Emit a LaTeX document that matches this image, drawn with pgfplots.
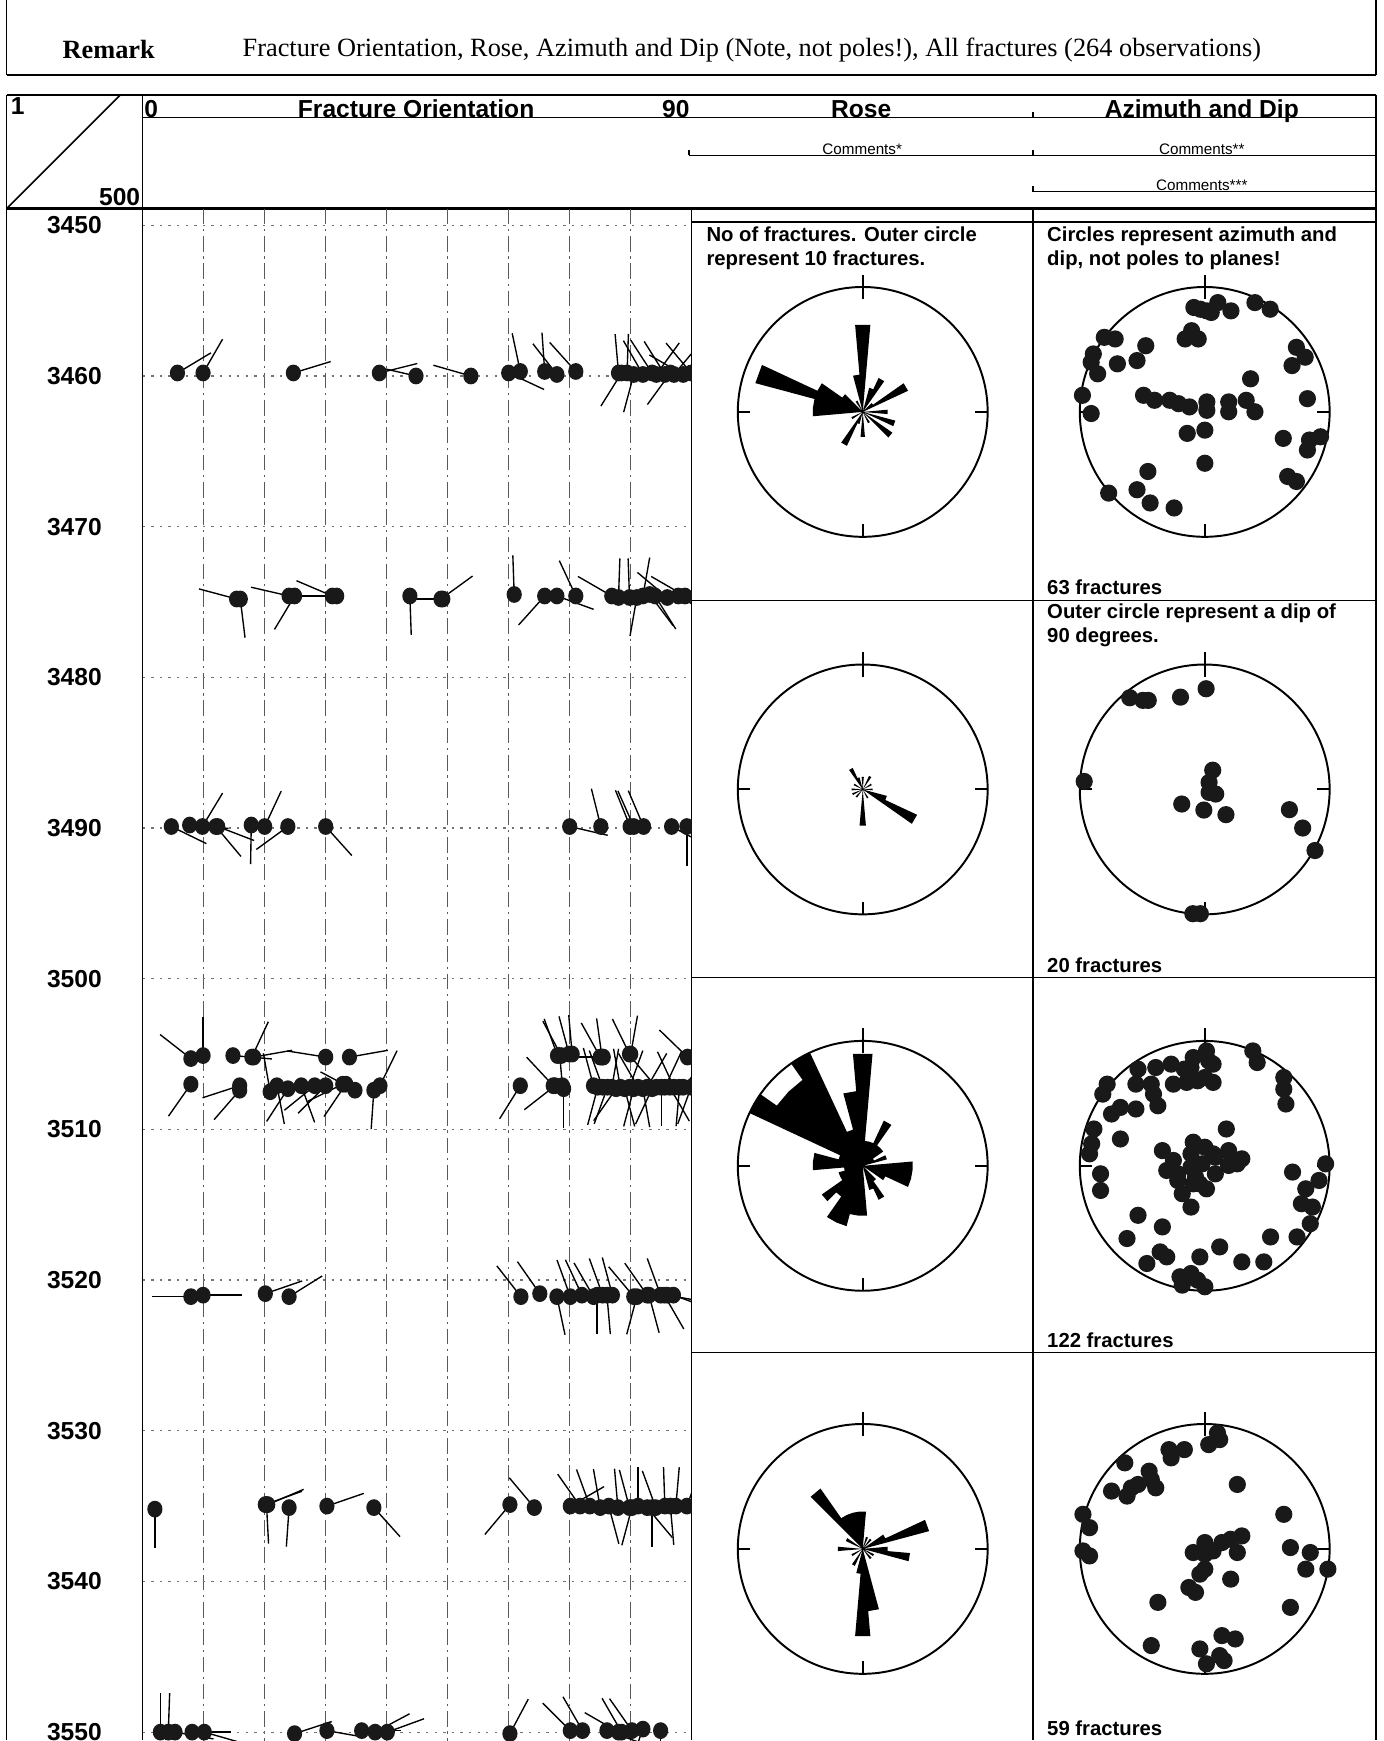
\documentclass[border=0pt]{standalone}
\usepackage{pgfplots}
\usepackage{pgfplotstable}
\pgfplotsset{compat=1.18}
\usepgfplotslibrary{polar}
\usepackage{fontspec}
\setmainfont{Liberation Serif}
\setsansfont{Liberation Sans}

\newcommand\hdfont{\sffamily\bfseries\fontsize{6.3}{7}\selectfont}
\newcommand\notefont{\sffamily\bfseries\fontsize{5.2}{6}\selectfont}
\newcommand\comfont{\sffamily\fontsize{3.9}{4.5}\selectfont}
\newcommand\ttlfont{\rmfamily\fontsize{6.75}{8}\selectfont}

\pgfdeclareplotmark{tail}{%
  \pgfsetlinewidth{0.35pt}%
  \pgfpathmoveto{\pgfpointorigin}%
  \pgfpathlineto{\pgfqpoint{0pt}{10pt}}%
  \pgfusepathqstroke
}
\pgfdeclareplotmark{dot}{%
  \pgfpathellipse{\pgfpointorigin}{\pgfqpoint{1.95pt}{0pt}}{\pgfqpoint{0pt}{2.15pt}}%
  \pgfusepathqfill
}

% tadpoles: dip (deg), depth (m), azimuth (deg)
\pgfplotstableread{
dip dep az
5.7 3459.8 59
9.9 3459.8 30
24.7 3459.8 73
38.8 3459.8 76
44.8 3460.0 283
53.8 3460.0 286
60.0 3459.8 115
61.9 3459.7 348
65.9 3459.7 356
67.9 3459.9 322
71.0 3459.7 318
78.0 3459.8 355
78.5 3459.8 212
79.4 3459.8 2
80.5 3459.9 195
82.0 3459.9 330
83.5 3459.8 327
84.2 3459.9 36
85.6 3459.9 328
86.5 3459.8 216
87.1 3459.9 40
88.6 3459.9 300
89.9 3459.8 320
15.4 3474.8 285
16.0 3474.8 173
24.0 3474.6 283
24.9 3474.6 211
31.1 3474.6 293
31.8 3474.6 270
43.8 3474.6 178
48.9 3474.8 54
49.2 3474.8 270
60.9 3474.5 358
65.9 3474.6 222
67.9 3474.6 110
71.0 3474.6 335
76.9 3474.6 300
78.0 3474.7 2
79.8 3474.7 358
81.0 3474.7 190
82.0 3474.6 10
83.1 3474.5 143
84.0 3474.6 148
86.0 3474.7 310
87.8 3474.6 120
88.9 3474.6 300
4.7 3489.9 116
7.7 3489.8 95
9.8 3489.9 31
12.0 3489.9 140
12.3 3489.9 111
17.8 3489.8 181
20.0 3489.9 25
23.8 3489.9 234
30.0 3489.9 138
70.0 3489.9 103
75.1 3489.9 346
79.9 3489.9 338
80.5 3489.9 336
82.1 3489.9 337
86.7 3489.9 118
89.2 3489.9 180
7.9 3505.3 308
9.9 3505.1 0
14.8 3505.1 95
17.9 3505.2 25
18.2 3505.2 80
30.0 3505.2 279
33.9 3505.2 80
68.0 3505.1 340
68.6 3505.1 332
69.9 3505.0 345
70.4 3505.0 355
75.0 3505.2 331
75.3 3505.2 352
75.5 3505.2 270
79.8 3505.0 334
80.0 3505.0 10
89.3 3505.2 314
7.9 3507.0 215
15.9 3507.1 252
15.9 3507.4 221
20.9 3507.5 350
22.0 3507.1 169
23.8 3507.3 213
26.0 3507.1 160
28.2 3507.1 231
30.0 3507.1 225
32.8 3507.0 244
33.3 3507.0 214
34.8 3507.4 298
37.9 3507.4 184
38.9 3507.1 26
61.9 3507.1 212
67.3 3507.1 317
67.6 3507.1 232
68.8 3507.1 355
69.0 3507.3 180
73.9 3507.1 345
74.6 3507.2 195
75.4 3507.2 340
76.2 3507.2 200
76.9 3507.2 10
77.6 3507.3 215
78.3 3507.2 350
79.0 3507.3 165
79.8 3507.2 20
80.5 3507.3 195
81.2 3507.2 330
82.0 3507.3 170
82.7 3507.2 30
83.5 3507.3 205
84.2 3507.2 320
85.0 3507.2 180
85.6 3507.2 25
86.4 3507.2 150
87.1 3507.2 335
88.0 3507.2 185
88.6 3507.2 40
89.9 3507.2 200
7.9 3521.1 270
9.9 3521.0 90
20.1 3520.9 71
24.0 3521.1 58
62.0 3521.1 322
65.1 3520.9 325
67.9 3521.1 168
70.1 3521.1 340
72.0 3521.0 335
73.9 3521.1 330
74.5 3521.0 180
75.4 3521.0 340
76.1 3521.0 175
77.0 3521.0 345
80.5 3521.1 320
81.0 3521.1 195
82.7 3521.0 325
83.0 3521.0 165
84.9 3521.0 340
85.5 3521.0 150
86.0 3521.0 100
87.0 3521.0 110
2.0 3535.2 180
20.1 3534.9 70
20.3 3534.9 177
20.5 3534.9 67
24.0 3535.1 184
30.2 3535.0 71
37.9 3535.1 138
60.2 3534.9 220
64.2 3535.1 320
70.1 3535.0 60
71.7 3535.0 325
73.3 3535.0 340
75.0 3535.1 350
76.4 3535.0 165
77.9 3535.1 355
79.8 3535.1 345
80.2 3535.1 195
81.2 3535.0 0
82.7 3535.1 140
83.5 3535.1 180
84.1 3535.1 340
85.6 3535.0 358
86.5 3535.0 175
87.4 3535.0 5
89.2 3535.0 20
2.9 3550.0 0
4.2 3550.0 2
5.3 3550.0 100
8.1 3550.0 90
10.1 3550.0 106
24.9 3550.1 72
30.2 3549.9 100
35.9 3549.9 90
38.1 3550.0 62
40.1 3550.0 70
60.2 3550.1 28
70.1 3549.9 315
72.1 3549.9 330
76.1 3549.9 110
78.0 3550.0 300
78.5 3550.0 330
80.2 3549.9 325
82.0 3549.8 200
84.9 3549.9 180
}\tadpoles

% rose petals: azimuth a (deg), number of fractures r
\pgfplotstableread[row sep=\\]{a r\\
0 0\\ -5 7\\ 5 7\\ nan nan\\
0 0\\ 15 2\\ 25 2\\ nan nan\\
0 0\\ 25 3\\ 35 3\\ nan nan\\
0 0\\ 45 1\\ 55 1\\ nan nan\\
0 0\\ 55 4\\ 65 4\\ nan nan\\
0 0\\ 85 2\\ 95 2\\ nan nan\\
0 0\\ 105 2.7\\ 115 2.7\\ nan nan\\
0 0\\ 125 2.9\\ 135 2.9\\ nan nan\\
0 0\\ 145 1\\ 155 1\\ nan nan\\
0 0\\ 175 2\\ 185 2\\ nan nan\\
0 0\\ 195 1\\ 205 1\\ nan nan\\
0 0\\ 205 3\\ 215 3\\ nan nan\\
0 0\\ 235 1\\ 245 1\\ nan nan\\
0 0\\ 265 4\\ 275 4\\ nan nan\\
0 0\\ 275 4\\ 285 4\\ nan nan\\
0 0\\ 285 8.9\\ 295 8.9\\ nan nan\\
0 0\\ 295 4\\ 305 4\\ nan nan\\
0 0\\ 305 2\\ 315 2\\ nan nan\\
0 0\\ 325 1\\ 335 1\\ nan nan\\
0 0\\ 345 3\\ 355 3\\ nan nan\\
}\roseA

\pgfplotstableread[row sep=\\]{a r\\
0 0\\ 115 4.8\\ 125 4.8\\ nan nan\\
0 0\\ 105 2\\ 115 2\\ nan nan\\
0 0\\ 175 2.9\\ 185 2.9\\ nan nan\\
0 0\\ 325 1.9\\ 335 1.9\\ nan nan\\
0 0\\ -5 1\\ 5 1\\ nan nan\\
0 0\\ 25 1.2\\ 35 1.2\\ nan nan\\
0 0\\ 55 0.8\\ 65 0.8\\ nan nan\\
0 0\\ 85 0.8\\ 95 0.8\\ nan nan\\
0 0\\ 145 0.8\\ 155 0.8\\ nan nan\\
0 0\\ 215 0.8\\ 225 0.8\\ nan nan\\
0 0\\ 240 0.9\\ 250 0.9\\ nan nan\\
0 0\\ 265 0.9\\ 275 0.9\\ nan nan\\
0 0\\ 295 0.8\\ 305 0.8\\ nan nan\\
0 0\\ 335 1\\ 345 1\\ nan nan\\
}\roseB

\pgfplotstableread[row sep=\\]{a r\\
0 0\\ 255 1.5\\ 265 1.5\\ nan nan\\
0 0\\ 265 4\\ 275 4\\ nan nan\\
0 0\\ 275 4\\ 285 4\\ nan nan\\
0 0\\ 285 2\\ 295 2\\ nan nan\\
0 0\\ 295 10\\ 305 10\\ nan nan\\
0 0\\ 305 8.4\\ 315 8.4\\ nan nan\\
0 0\\ 315 8.4\\ 325 8.4\\ nan nan\\
0 0\\ 325 10\\ 335 10\\ nan nan\\
0 0\\ 335 3\\ 345 3\\ nan nan\\
0 0\\ 345 6\\ 355 6\\ nan nan\\
0 0\\ -5 9\\ 5 9\\ nan nan\\
0 0\\ 5 2\\ 15 2\\ nan nan\\
0 0\\ 15 2\\ 25 2\\ nan nan\\
0 0\\ 25 4\\ 35 4\\ nan nan\\
0 0\\ 35 2\\ 45 2\\ nan nan\\
0 0\\ 45 2\\ 55 2\\ nan nan\\
0 0\\ 55 1\\ 65 1\\ nan nan\\
0 0\\ 65 2\\ 75 2\\ nan nan\\
0 0\\ 85 4\\ 95 4\\ nan nan\\
0 0\\ 95 4\\ 105 4\\ nan nan\\
0 0\\ 105 4\\ 115 4\\ nan nan\\
0 0\\ 115 2\\ 125 2\\ nan nan\\
0 0\\ 135 1.5\\ 145 1.5\\ nan nan\\
0 0\\ 145 3\\ 155 3\\ nan nan\\
0 0\\ 155 2\\ 165 2\\ nan nan\\
0 0\\ 175 4\\ 185 4\\ nan nan\\
0 0\\ 185 4\\ 195 4\\ nan nan\\
0 0\\ 195 5\\ 205 5\\ nan nan\\
0 0\\ 205 5\\ 215 5\\ nan nan\\
0 0\\ 215 3\\ 225 3\\ nan nan\\
0 0\\ 225 4\\ 235 4\\ nan nan\\
0 0\\ 235 2\\ 245 2\\ nan nan\\
0 0\\ 245 2\\ 255 2\\ nan nan\\
}\roseC

\pgfplotstableread[row sep=\\]{a r\\
0 0\\ 315 5.9\\ 325 5.9\\ nan nan\\
0 0\\ 325 3\\ 335 3\\ nan nan\\
0 0\\ 335 3\\ 345 3\\ nan nan\\
0 0\\ 345 3\\ 355 3\\ nan nan\\
0 0\\ -5 3\\ 5 3\\ nan nan\\
0 0\\ 15 1\\ 25 1\\ nan nan\\
0 0\\ 35 1\\ 45 1\\ nan nan\\
0 0\\ 55 2\\ 65 2\\ nan nan\\
0 0\\ 65 5.5\\ 75 5.5\\ nan nan\\
0 0\\ 85 2\\ 95 2\\ nan nan\\
0 0\\ 95 3.8\\ 105 3.8\\ nan nan\\
0 0\\ 115 1\\ 125 1\\ nan nan\\
0 0\\ 135 1\\ 145 1\\ nan nan\\
0 0\\ 165 5\\ 175 5\\ nan nan\\
0 0\\ 175 7\\ 185 7\\ nan nan\\
0 0\\ 185 2\\ 195 2\\ nan nan\\
0 0\\ 205 1.5\\ 215 1.5\\ nan nan\\
0 0\\ 235 1\\ 245 1\\ nan nan\\
0 0\\ 265 2\\ 275 2\\ nan nan\\
0 0\\ 295 1.5\\ 305 1.5\\ nan nan\\
}\roseD

% stereonets: positions in the net (east, north), outer circle = 1 (dip 90)
\pgfplotstableread{
x y
-0.087 0.836
-0.035 0.822
0.017 0.809
0.052 0.796
0.105 0.875
0.21 0.809
0.402 0.875
0.524 0.822
-0.105 0.65
-0.157 0.584
-0.052 0.584
-0.804 0.597
-0.717 0.584
-0.472 0.53
-0.892 0.464
-0.909 0.398
-0.699 0.385
-0.542 0.411
-0.857 0.305
-0.979 0.133
-0.909 -0.013
-0.49 0.133
-0.402 0.093
-0.28 0.093
-0.21 0.066
-0.122 0.04
0.017 0.08
0.017 0.013
0.192 0.08
0.192 0.001
0.332 0.093
0.402 0.001
0.367 0.265
0.734 0.517
0.804 0.438
0.699 0.371
0.822 0.106
-0.14 -0.172
0.001 -0.146
0.001 -0.411
0.629 -0.212
0.839 -0.225
0.927 -0.199
0.822 -0.305
0.664 -0.517
0.734 -0.557
-0.455 -0.477
-0.542 -0.623
-0.769 -0.65
-0.437 -0.729
-0.245 -0.769
}\netA

\pgfplotstableread{
x y
-0.60 0.734
-0.495 0.713
-0.452 0.713
-0.194 0.739
0.011 0.806
-0.965 0.064
0.064 0.154
0.035 0.056
0.035 -0.024
0.088 -0.037
-0.184 -0.117
-0.007 -0.165
0.17 -0.202
0.678 -0.162
0.784 -0.309
0.883 -0.489
-0.095 -0.995
-0.035 -0.995
}\netB

\pgfplotstableread{
x y
0.014 0.92
0.032 0.84
-0.092 0.867
-0.11 0.787
0.001 0.707
0.067 0.668
-0.057 0.681
-0.163 0.774
-0.269 0.814
-0.392 0.787
-0.534 0.774
-0.551 0.654
-0.428 0.654
-0.251 0.654
-0.145 0.668
-0.41 0.574
-0.551 0.455
-0.375 0.481
-0.675 0.468
-0.746 0.415
-0.781 0.654
-0.816 0.574
0.385 0.92
0.42 0.827
0.633 0.707
0.633 0.614
0.65 0.495
-0.887 0.295
-0.905 0.176
-0.922 0.096
-0.675 0.215
-0.834 -0.064
-0.834 -0.197
0.173 0.295
-0.092 0.189
0.001 0.149
-0.339 0.122
-0.251 0.043
-0.304 -0.037
-0.216 -0.064
-0.11 -0.011
-0.021 0.016
0.085 0.069
0.191 0.122
0.297 0.056
0.191 0.003
0.085 -0.064
0.014 -0.184
-0.092 -0.144
-0.18 -0.223
-0.11 -0.33
-0.216 -0.117
-0.074 -0.09
0.703 -0.05
0.968 0.016
0.915 -0.117
0.809 -0.184
0.774 -0.303
0.862 -0.33
0.845 -0.463
0.739 -0.569
0.527 -0.569
-0.534 -0.396
-0.339 -0.489
-0.622 -0.582
-0.357 -0.689
-0.304 -0.729
-0.463 -0.782
-0.039 -0.729
0.12 -0.649
0.297 -0.769
0.473 -0.769
-0.198 -0.888
-0.11 -0.862
-0.18 -0.955
-0.057 -0.915
0.001 -0.968
0.067 0.814
0.067 0.096
0.26 0.016
-0.04 -0.144
-0.11 0.096
}\netC

\pgfplotstableread{
x y
0.102 0.928
0.12 0.875
0.032 0.835
-0.163 0.795
-0.286 0.795
-0.269 0.729
-0.64 0.689
-0.445 0.622
-0.428 0.556
-0.534 0.516
-0.587 0.489
-0.746 0.463
-0.622 0.423
-0.392 0.489
0.261 0.516
-0.975 0.277
-0.922 0.17
-0.975 -0.016
-0.922 -0.056
0.633 0.277
0.686 0.011
0.845 -0.029
0.809 -0.162
0.986 -0.162
0.297 0.104
0.208 0.077
0.138 0.051
0.001 0.051
-0.092 -0.029
0.001 -0.043
0.067 -0.016
0.261 -0.029
0.001 -0.162
-0.039 -0.202
0.208 -0.242
-0.127 -0.309
-0.074 -0.348
-0.375 -0.428
0.686 -0.468
-0.428 -0.774
-0.039 -0.801
0.138 -0.694
0.244 -0.721
0.12 -0.854
0.155 -0.894
0.014 -0.92
}\netD

\pgfplotsset{
  circax/.style={
    scale only axis, width=2.25cm, height=2.25cm,
    xmin=0, xmax=360, ymin=0,
    grid=none, ytick=\empty, xtick=\empty,
    axis line style={line width=0.5pt},
    y axis line style={draw=none},
    anchor=center, clip=false,
  },
  rosepl/.style={fill=black, draw=none, unbounded coords=jump},
  netpl/.style={only marks, mark=*, mark size=2pt, black!90},
}
% cardinal ticks: N crosses the circle, E, S, W point inwards
\newcommand\cardticks[3]{%
  \draw[line width=0.5pt] (axis cs:90,#1) -- (axis cs:90,#3);
  \draw[line width=0.5pt] (axis cs:0,#1) -- (axis cs:0,#2);
  \draw[line width=0.5pt] (axis cs:180,#1) -- (axis cs:180,#2);
  \draw[line width=0.5pt] (axis cs:270,#1) -- (axis cs:270,#2);
}

\begin{document}
\begin{tikzpicture}
\path[use as bounding box] (0,0) rectangle (12.46,15.68);

\begin{scope}[x=0.01cm, y=-0.01cm, yshift=15.68cm, line width=0.4pt]
  % title box
  \draw (6,0) -- (6,67.6);
  \draw (1240,0) -- (1240,67.6);
  \draw[line width=0.7pt] (6,67.6) -- (1240,67.6);
  \node[anchor=center] at (98,45) {\ttlfont\bfseries Remark};
  \node[anchor=center] at (677.5,45) {\ttlfont Fracture Orientation, Rose, Azimuth and Dip (Note, not poles!), All fractures (264 observations)};
  % table frame
  \draw[line width=0.7pt] (6,85.6) -- (1240,85.6);
  \draw (6,85.6) -- (6,1568);
  \draw (1240,85.6) -- (1240,1568);
  \draw (128.5,85.6) -- (128.5,1568);
  \draw (6,188) -- (108,86);
  \draw (128.5,106) -- (1240,106);
  \draw (931,106) -- (931,101);
  \draw (621,140) -- (1240,140);
  \draw (621,140) -- (621,135);
  \draw (931,140) -- (931,135);
  \draw (931,172.6) -- (1240,172.6);
  \draw (931,172.6) -- (931,168);
  \draw[line width=0.7pt] (6,188) -- (1240,188);
  \draw (623,200) -- (1240,200);
  \draw (623,188) -- (623,1568);
  \draw (931,188) -- (931,1568);
  \draw (623,541) -- (1240,541);
  \draw (623,881) -- (1240,881);
  \draw (623,1219) -- (1240,1219);
  % header texts
  \node[anchor=center, inner sep=0pt] at (16,96) {\hdfont 1};
  \node[anchor=base east, inner sep=0pt] at (127,185) {\hdfont 500};
  \node[anchor=base west, inner sep=0pt] at (129.5,105.5) {\hdfont 0};
  \node[anchor=base, inner sep=0pt] at (375,105.5) {\hdfont Fracture Orientation};
  \node[anchor=base east, inner sep=0pt] at (622,105.5) {\hdfont 90};
  \node[anchor=base, inner sep=0pt] at (776,105.5) {\hdfont Rose};
  \node[anchor=base, inner sep=0pt] at (1083,105.5) {\hdfont Azimuth and Dip};
  \node[anchor=base, inner sep=0pt] at (777,139) {\comfont Comments*};
  \node[anchor=base, inner sep=0pt] at (1083,139) {\comfont Comments**};
  \node[anchor=base, inner sep=0pt] at (1083,171.5) {\comfont Comments***};
  % notes
  \node[anchor=base west, inner sep=0pt] at (636,218) {\notefont No of fractures. Outer circle};
  \node[anchor=base west, inner sep=0pt] at (636,239.5) {\notefont represent 10 fractures.};
  \node[anchor=base west, inner sep=0pt] at (943,218) {\notefont Circles represent azimuth and};
  \node[anchor=base west, inner sep=0pt] at (943,239.5) {\notefont dip, not poles to planes!};
  \node[anchor=base west, inner sep=0pt] at (943,536) {\notefont 63 fractures};
  \node[anchor=base west, inner sep=0pt] at (943,557.5) {\notefont Outer circle represent a dip of};
  \node[anchor=base west, inner sep=0pt] at (943,579) {\notefont 90 degrees.};
  \node[anchor=base west, inner sep=0pt] at (943,876) {\notefont 20 fractures};
  \node[anchor=base west, inner sep=0pt] at (943,1214) {\notefont 122 fractures};
  \node[anchor=base west, inner sep=0pt] at (943,1564) {\notefont 59 fractures};
\end{scope}

% fracture orientation (tadpole) track
\begin{axis}[
  at={(1.285cm,0cm)}, anchor=south west,
  scale only axis, width=4.945cm, height=13.80cm,
  xmin=0, xmax=90, ymin=3448.9, ymax=3550.59, y dir=reverse,
  axis line style={draw=none},
  xtick={10,20,...,80}, xticklabels={},
  ytick={3450,3460,...,3550},
  major tick length=0pt,
  grid=major,
  x grid style={black!65, line width=0.3pt, dash pattern=on 4pt off 1.2pt on 0.6pt off 1.2pt},
  y grid style={black!55, line width=0.3pt, dash pattern=on 0.6pt off 1.6pt},
  yticklabel style={font=\hdfont, anchor=center, xshift=-0.615cm},
  /pgf/number format/assume math mode=true,
  /pgf/number format/1000 sep={},
  clip marker paths=true,
]
\addplot[scatter, only marks, mark=tail,
  scatter/use mapped color={draw=black, fill=black},
  visualization depends on={\thisrow{az} \as \az},
  scatter/@pre marker code/.append style={/tikz/rotate=-\az}]
  table[x=dip, y=dep] {\tadpoles};
\addplot[only marks, mark=dot, black!90] table[x=dip, y=dep] {\tadpoles};
\end{axis}

% rose diagrams
\begin{polaraxis}[circax, ymax=10, at={(7.77cm,11.97cm)}]
\addplot[rosepl] table[x expr=90-\thisrow{a}, y=r] {\roseA};
\cardticks{9}{10}{11}
\end{polaraxis}
\begin{polaraxis}[circax, ymax=10, at={(7.77cm,8.57cm)}]
\addplot[rosepl] table[x expr=90-\thisrow{a}, y=r] {\roseB};
\cardticks{9}{10}{11}
\end{polaraxis}
\begin{polaraxis}[circax, ymax=10, at={(7.77cm,5.18cm)}]
\addplot[rosepl] table[x expr=90-\thisrow{a}, y=r] {\roseC};
\cardticks{9}{10}{11}
\end{polaraxis}
\begin{polaraxis}[circax, ymax=10, at={(7.77cm,1.73cm)}]
\addplot[rosepl] table[x expr=90-\thisrow{a}, y=r] {\roseD};
\cardticks{9}{10}{11}
\end{polaraxis}

% azimuth and dip nets (positions converted to angle and radius)
\begin{polaraxis}[circax, ymax=1, at={(10.85cm,11.97cm)}]
\addplot[netpl] table[x expr={atan2(\thisrow{y},\thisrow{x})}, y expr={veclen(\thisrow{x},\thisrow{y})}] {\netA};
\cardticks{0.9}{1}{1.1}
\end{polaraxis}
\begin{polaraxis}[circax, ymax=1, at={(10.85cm,8.57cm)}]
\addplot[netpl] table[x expr={atan2(\thisrow{y},\thisrow{x})}, y expr={veclen(\thisrow{x},\thisrow{y})}] {\netB};
\cardticks{0.9}{1}{1.1}
\end{polaraxis}
\begin{polaraxis}[circax, ymax=1, at={(10.85cm,5.18cm)}]
\addplot[netpl] table[x expr={atan2(\thisrow{y},\thisrow{x})}, y expr={veclen(\thisrow{x},\thisrow{y})}] {\netC};
\cardticks{0.9}{1}{1.1}
\end{polaraxis}
\begin{polaraxis}[circax, ymax=1, at={(10.85cm,1.73cm)}]
\addplot[netpl] table[x expr={atan2(\thisrow{y},\thisrow{x})}, y expr={veclen(\thisrow{x},\thisrow{y})}] {\netD};
\cardticks{0.9}{1}{1.1}
\end{polaraxis}
\end{tikzpicture}
\end{document}
